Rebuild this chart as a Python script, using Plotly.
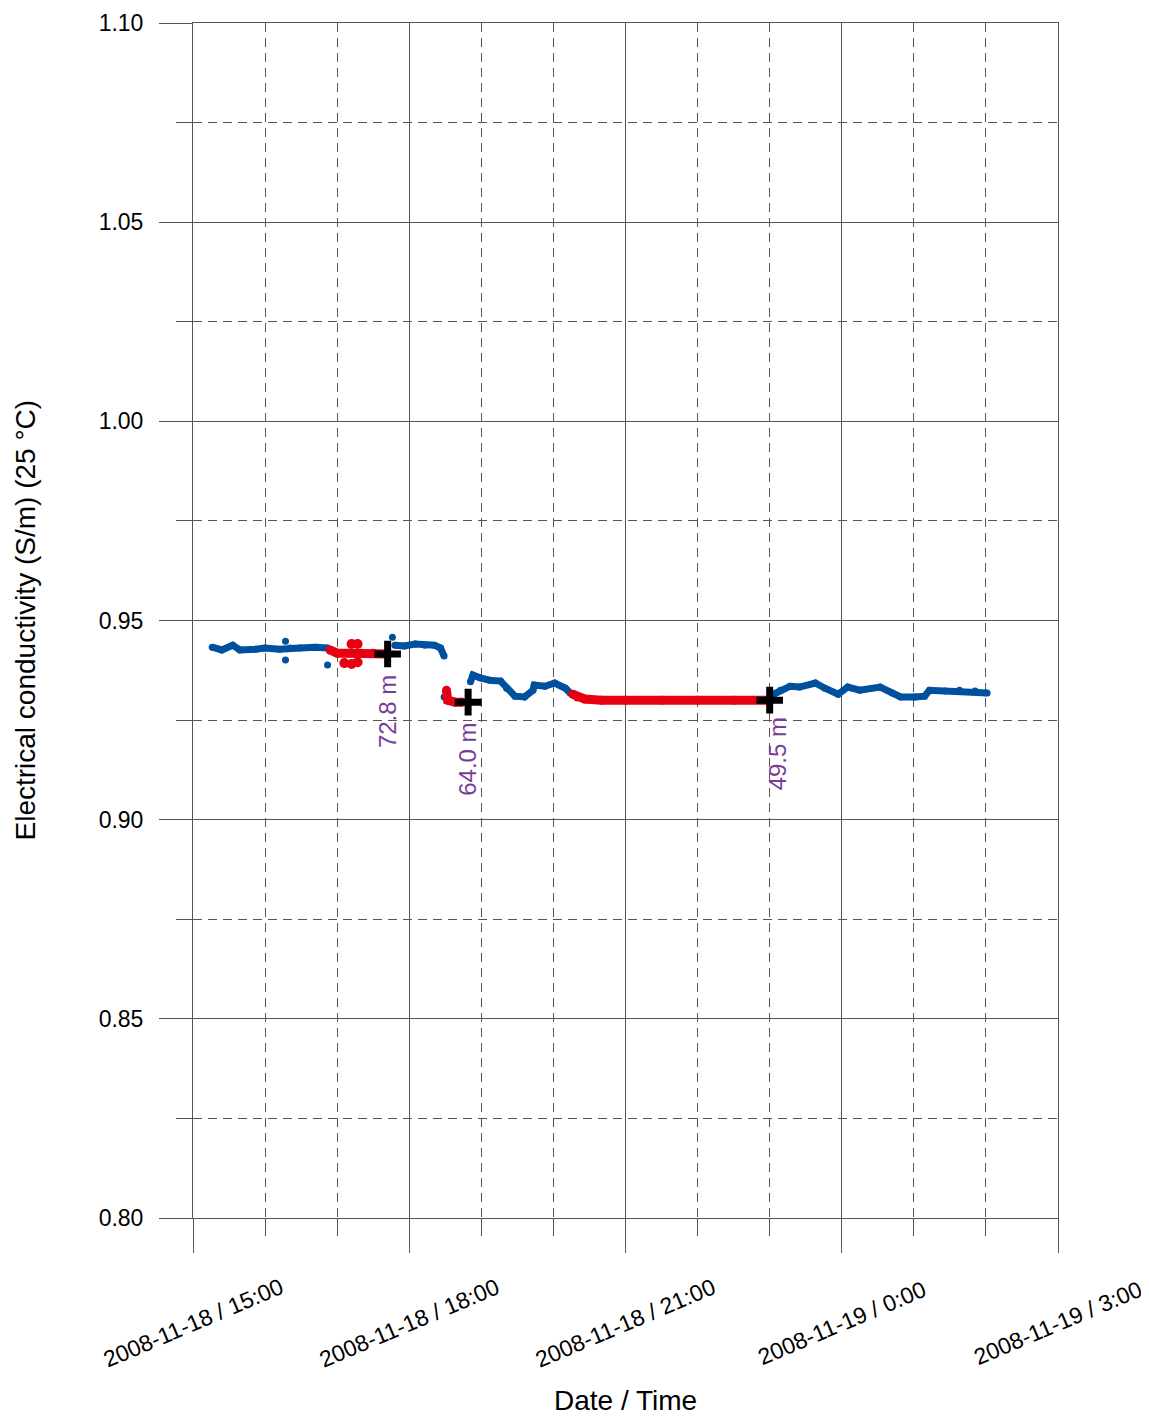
import plotly.graph_objects as go

# ---------------- data ----------------
blue1_t = ["2008-11-18 15:16", "2008-11-18 15:24", "2008-11-18 15:33", "2008-11-18 15:39",
           "2008-11-18 15:52", "2008-11-18 16:00", "2008-11-18 16:12", "2008-11-18 16:21",
           "2008-11-18 16:29", "2008-11-18 16:42", "2008-11-18 16:52"]
blue1_v = [0.9433, 0.9426, 0.9438, 0.9426, 0.9428, 0.9431, 0.9428, 0.9431, 0.9431, 0.9433, 0.9431]

blue2_t = ["2008-11-18 17:48", "2008-11-18 17:56", "2008-11-18 18:05", "2008-11-18 18:13",
           "2008-11-18 18:21", "2008-11-18 18:26", "2008-11-18 18:29"]
blue2_v = [0.9438, 0.9436, 0.9441, 0.9438, 0.9438, 0.9431, 0.9411]

blue3_t = ["2008-11-18 18:51", "2008-11-18 18:53", "2008-11-18 18:59", "2008-11-18 19:07",
           "2008-11-18 19:16", "2008-11-18 19:21", "2008-11-18 19:28", "2008-11-18 19:36",
           "2008-11-18 19:43", "2008-11-18 19:44", "2008-11-18 19:53", "2008-11-18 20:01",
           "2008-11-18 20:10", "2008-11-18 20:14"]
blue3_v = [0.9346, 0.9363, 0.9356, 0.9350, 0.9348, 0.9330, 0.9310, 0.9308,
           0.9325, 0.9338, 0.9335, 0.9343, 0.9330, 0.9318]

blue4_t = ["2008-11-18 23:02", "2008-11-18 23:09", "2008-11-18 23:17", "2008-11-18 23:25",
           "2008-11-18 23:38", "2008-11-18 23:46", "2008-11-18 23:57", "2008-11-19 00:05",
           "2008-11-19 00:15", "2008-11-19 00:32", "2008-11-19 00:42", "2008-11-19 00:49",
           "2008-11-19 01:01", "2008-11-19 01:09", "2008-11-19 01:13", "2008-11-19 01:26",
           "2008-11-19 01:38", "2008-11-19 01:51", "2008-11-19 02:01"]
blue4_v = [0.9313, 0.9325, 0.9335, 0.9333, 0.9343, 0.9330, 0.9315, 0.9333,
           0.9325, 0.9333, 0.9318, 0.9308, 0.9308, 0.9310, 0.9325, 0.9323,
           0.9325, 0.9323, 0.9318]

blue_out_t = ["2008-11-18 16:17", "2008-11-18 16:17", "2008-11-18 16:52", "2008-11-18 17:46",
              "2008-11-18 18:29"]
blue_out_v = [0.9448, 0.9401, 0.9388, 0.9458, 0.9308]

red1_t = ["2008-11-18 16:54", "2008-11-18 17:00", "2008-11-18 17:10", "2008-11-18 17:20",
          "2008-11-18 17:30", "2008-11-18 17:42"]
red1_v = [0.9426, 0.9418, 0.9418, 0.9418, 0.9418, 0.9416]

red2_t = ["2008-11-18 18:31", "2008-11-18 18:32", "2008-11-18 18:38", "2008-11-18 18:44"]
red2_v = [0.9325, 0.9300, 0.9295, 0.9295]

red3_t = ["2008-11-18 20:16", "2008-11-18 20:20", "2008-11-18 20:26", "2008-11-18 20:40",
          "2008-11-18 21:00", "2008-11-18 21:30", "2008-11-18 22:00", "2008-11-18 22:30",
          "2008-11-18 23:00"]
red3_v = [0.9315, 0.9308, 0.9303, 0.9300, 0.9300, 0.9300, 0.9300, 0.9300, 0.9300]

red_out_t = ["2008-11-18 17:12", "2008-11-18 17:17", "2008-11-18 17:06", "2008-11-18 17:12",
             "2008-11-18 17:17"]
red_out_v = [0.9441, 0.9441, 0.9393, 0.9391, 0.9395]

sample_t = ["2008-11-18 17:42", "2008-11-18 18:49", "2008-11-18 23:00"]
sample_v = [0.9416, 0.9295, 0.9300]
sample_lbl = ["72.8 m", "64.0 m", "49.5 m"]
lbl_xshift = [0, 0, 8]
lbl_yshift = [-19, -19, -15]

xtick_vals = ["2008-11-18 15:00", "2008-11-18 18:00", "2008-11-18 21:00",
              "2008-11-19 00:00", "2008-11-19 03:00"]
xtick_text = ["2008-11-18 / 15:00", "2008-11-18 / 18:00", "2008-11-18 / 21:00",
              "2008-11-19 / 0:00", "2008-11-19 / 3:00"]
ytick_vals = [0.80, 0.85, 0.90, 0.95, 1.00, 1.05, 1.10]
ytick_text = ["0.80", "0.85", "0.90", "0.95", "1.00", "1.05", "1.10"]

BLUE = "#00509f"
RED = "#e60012"
PURPLE = "#7a3d97"
GRID = "#555555"
FONT = "Liberation Sans, Arial, sans-serif"
DASH = "9px,6px"

fig = go.Figure()

def seg(t, v, color, w, ms):
    fig.add_trace(go.Scatter(x=t, y=v, mode="lines+markers",
                             line=dict(color=color, width=w),
                             marker=dict(color=color, size=ms),
                             showlegend=False, hoverinfo="skip"))

for t, v in [(blue1_t, blue1_v), (blue2_t, blue2_v), (blue3_t, blue3_v), (blue4_t, blue4_v)]:
    seg(t, v, BLUE, 7, 7)
fig.add_trace(go.Scatter(x=blue_out_t, y=blue_out_v, mode="markers",
                         marker=dict(color=BLUE, size=7), showlegend=False, hoverinfo="skip"))
for t, v in [(red1_t, red1_v), (red2_t, red2_v), (red3_t, red3_v)]:
    seg(t, v, RED, 9, 9)
fig.add_trace(go.Scatter(x=red_out_t, y=red_out_v, mode="markers",
                         marker=dict(color=RED, size=10), showlegend=False, hoverinfo="skip"))
fig.add_trace(go.Scatter(x=sample_t, y=sample_v, mode="markers",
                         marker=dict(symbol="cross-thin", size=19,
                                     line=dict(color="black", width=7)),
                         showlegend=False, hoverinfo="skip"))

annotations = []
for t, v, s, dx, dy in zip(sample_t, sample_v, sample_lbl, lbl_xshift, lbl_yshift):
    annotations.append(dict(x=t, y=v, xref="x", yref="y", text=s, showarrow=False,
                            textangle=-90, xanchor="center", yanchor="top",
                            xshift=dx, yshift=dy,
                            font=dict(family=FONT, size=24, color=PURPLE)))
for t, s in zip(xtick_vals, xtick_text):
    annotations.append(dict(x=t, y=0, xref="x", yref="paper", text=s, showarrow=False,
                            textangle=-23, xanchor="center", yanchor="middle",
                            yshift=-105,
                            font=dict(family=FONT, size=23, color="black")))
# axis titles
annotations.append(dict(x=0.5, y=0, xref="paper", yref="paper", text="Date / Time",
                        showarrow=False, xanchor="center", yanchor="middle", yshift=-182,
                        font=dict(family=FONT, size=28, color="black")))
annotations.append(dict(x=0, y=0.5, xref="paper", yref="paper",
                        text="Electrical conductivity (S/m) (25 °C)",
                        showarrow=False, textangle=-90, xanchor="center", yanchor="middle",
                        xshift=-168, font=dict(family=FONT, size=28, color="black")))

fig.update_layout(
    width=1141, height=1408,
    margin=dict(l=185, r=91, t=15, b=198, autoexpand=False),
    paper_bgcolor="white", plot_bgcolor="white",
    font=dict(family=FONT, color="black"),
    annotations=annotations,
    xaxis=dict(
        type="date", automargin=False,
        range=["2008-11-18 15:00", "2008-11-19 03:00"],
        tickmode="array", tickvals=xtick_vals, showticklabels=False,
        ticks="outside", ticklen=34, tickcolor=GRID, tickwidth=1,
        showgrid=True, gridcolor=GRID, gridwidth=1,
        showline=True, linecolor=GRID, linewidth=1, mirror=True,
        zeroline=False,
        minor=dict(dtick=3600000, tick0="2008-11-18 15:00", ticks="outside", ticklen=17,
                   tickcolor=GRID, showgrid=True, gridcolor=GRID, griddash=DASH,
                   gridwidth=1),
    ),
    yaxis=dict(
        automargin=False,
        range=[0.80, 1.10],
        tickmode="array", tickvals=ytick_vals, ticktext=ytick_text,
        ticks="outside", ticklen=33, tickcolor=GRID, tickwidth=1,
        ticklabelstandoff=11,
        tickfont=dict(family=FONT, size=23),
        showgrid=True, gridcolor=GRID, gridwidth=1,
        showline=True, linecolor=GRID, linewidth=1, mirror=True,
        zeroline=False,
        minor=dict(dtick=0.025, tick0=0.80, ticks="outside", ticklen=16,
                   tickcolor=GRID, showgrid=True, gridcolor=GRID, griddash=DASH,
                   gridwidth=1),
    ),
)

fig.write_html("out.html")
